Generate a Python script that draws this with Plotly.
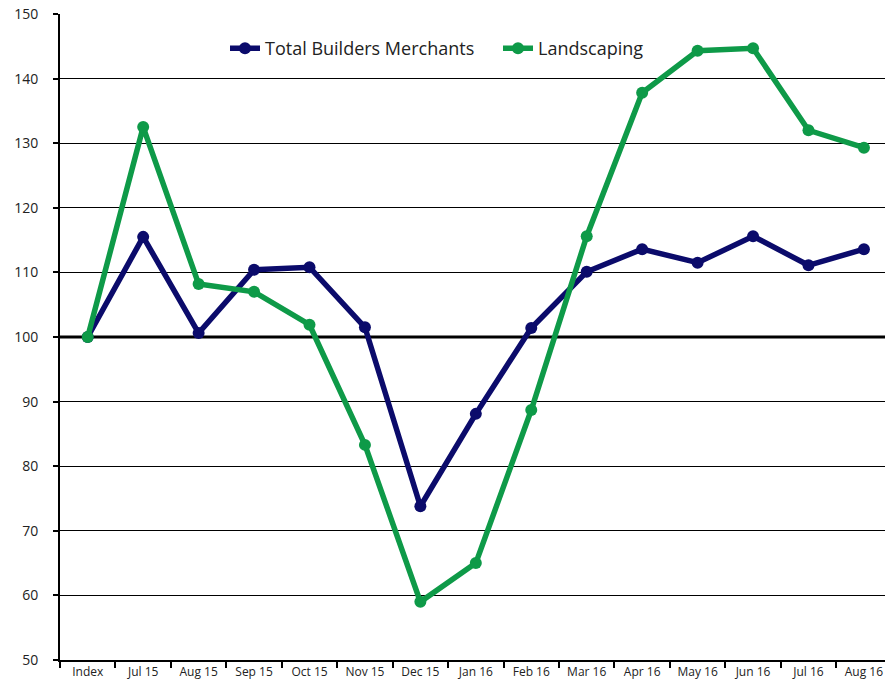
import plotly.graph_objects as go

months = ["Index", "Jul 15", "Aug 15", "Sep 15", "Oct 15", "Nov 15", "Dec 15", "Jan 16",
          "Feb 16", "Mar 16", "Apr 16", "May 16", "Jun 16", "Jul 16", "Aug 16"]
builders = [100, 115.5, 100.6, 110.4, 110.8, 101.5, 73.8, 88.1,
            101.4, 110.1, 113.6, 111.5, 115.6, 111.1, 113.6]
landscaping = [100, 132.5, 108.2, 107.0, 101.9, 83.3, 59.0, 65.0,
               88.7, 115.6, 137.8, 144.3, 144.7, 132.0, 129.3]

NAVY = "#0b0b6b"
GREEN = "#0e9a48"

fig = go.Figure()
fig.add_trace(go.Scatter(x=months, y=builders, name="Total Builders Merchants",
                         mode="lines+markers", line=dict(color=NAVY, width=5.5),
                         marker=dict(color=NAVY, size=12)))
fig.add_trace(go.Scatter(x=months, y=landscaping, name="Landscaping",
                         mode="lines+markers", line=dict(color=GREEN, width=5.5),
                         marker=dict(color=GREEN, size=12)))

# baseline at 100
fig.add_hline(y=100, line=dict(color="black", width=3), layer="below")

fig.update_layout(
    width=885, height=688,
    margin=dict(l=60, r=0, t=14, b=28),
    plot_bgcolor="white", paper_bgcolor="white",
    font=dict(family="Open Sans, Liberation Sans, sans-serif", color="#222"),
    legend=dict(orientation="h", x=0.2, y=0.975, yanchor="top", xanchor="left",
                font=dict(size=18, color="#222"), bgcolor="rgba(0,0,0,0)",
                itemwidth=30, tracegroupgap=0,
                entrywidth=228, entrywidthmode="pixels"),
)
fig.update_xaxes(type="category", range=[-0.5, 14.38], showgrid=False,
                 showline=True, linecolor="black", linewidth=2,
                 ticks="outside", tickson="boundaries", ticklen=6,
                 tickwidth=2, tickcolor="black", automargin=False,
                 tickfont=dict(size=12, color="#222"))
fig.update_yaxes(range=[50, 150], dtick=10, showgrid=True, gridcolor="black",
                 gridwidth=1, showline=True, linecolor="black", linewidth=2,
                 ticks="outside", ticklen=5, tickwidth=2, tickcolor="black",
                 zeroline=False, tickfont=dict(size=14, color="#222"),
                 ticklabelstandoff=12, automargin=False)

# drop the default page margin so the figure sits at the window's corner
fig.write_html("out.html", config={"displayModeBar": False},
               post_script="document.body.style.margin='0';document.body.style.overflow='hidden';")
